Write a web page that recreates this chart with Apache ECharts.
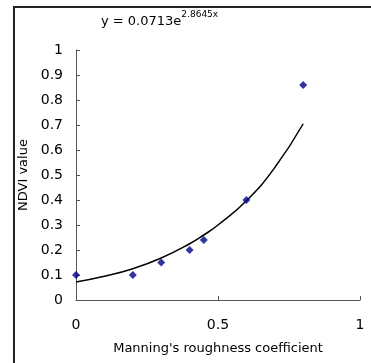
<!DOCTYPE html>
<html>
<head>
<meta charset="utf-8">
<script src="https://cdn.jsdelivr.net/npm/echarts@6/dist/echarts.min.js"></script>
<style>
  html, body { margin: 0; padding: 0; background: #fff; }
  #chart { width: 371px; height: 363px; }
</style>
</head>
<body>
<div id="chart"></div>
<script>
// measured points
var roughness = [0, 0.2, 0.3, 0.4, 0.45, 0.6, 0.8];
var ndvi = [0.1, 0.1, 0.15, 0.2, 0.24, 0.4, 0.86];
// trend line
var trendX = [0, 0.1, 0.2, 0.3, 0.4, 0.45, 0.5, 0.6, 0.7, 0.8];
var trendY = [0.072, 0.095, 0.125, 0.168, 0.225, 0.26, 0.3, 0.397, 0.53, 0.705];
var xTicks = [0, 0.5, 1];
var yTicks = [0, 0.1, 0.2, 0.3, 0.4, 0.5, 0.6, 0.7, 0.8, 0.9, 1];

var font = '"DejaVu Sans", sans-serif';

var pts = [];
for (var i = 0; i < roughness.length; i++) {
    pts.push([roughness[i], ndvi[i]]);
}
var trend = [];
for (var j = 0; j < trendX.length; j++) {
    trend.push([trendX[j], trendY[j]]);
}

var myChart = echarts.init(document.getElementById('chart'));
var option = {
    backgroundColor: '#fff',
    animation: false,
    title: {
        text: '{b|y = 0.0713e}{s|2.8645x}',
        left: 96,
        top: 3,
        textStyle: {
            fontWeight: 'normal',
            rich: {
                b: { fontFamily: font, fontSize: 13, fontWeight: 'normal', color: '#000', lineHeight: 20, verticalAlign: 'bottom' },
                s: { fontFamily: font, fontSize: 9, fontWeight: 'normal', color: '#000', lineHeight: 20, padding: [0, 0, 9, 0], verticalAlign: 'bottom' }
            }
        }
    },
    graphic: [{
        type: 'polyline',
        shape: { points: [[14, 400], [14, 7], [400, 7]] },
        style: { stroke: '#222', lineWidth: 2, fill: null }
    }],
    grid: { left: 76, right: 11, top: 50, bottom: 63 },
    xAxis: {
        type: 'value',
        min: 0, max: 1, interval: 0.5,
        name: "Manning's roughness coefficient",
        nameLocation: 'middle',
        nameGap: 42,
        nameTextStyle: { fontFamily: font, fontSize: 13, color: '#000' },
        axisLine: { show: true, lineStyle: { color: '#555', width: 1 } },
        axisTick: { show: true, inside: true, length: 4, lineStyle: { color: '#555' } },
        axisLabel: {
            margin: 18, fontFamily: font, fontSize: 14, color: '#000',
            formatter: function (v) { return xTicks.indexOf(v) >= 0 ? String(v) : ''; }
        },
        splitLine: { show: false }
    },
    yAxis: {
        type: 'value',
        min: 0, max: 1, interval: 0.1,
        name: 'NDVI value',
        nameLocation: 'middle',
        nameGap: 39,
        nameRotate: 90,
        nameTextStyle: { fontFamily: font, fontSize: 13, color: '#000' },
        axisLine: { show: true, lineStyle: { color: '#555', width: 1 } },
        axisTick: { show: true, inside: true, length: 4, lineStyle: { color: '#555' } },
        axisLabel: {
            margin: 13, fontFamily: font, fontSize: 14, color: '#000',
            formatter: function (v) {
                var r = Math.round(v * 10) / 10;
                return yTicks.indexOf(r) >= 0 ? String(r) : '';
            }
        },
        splitLine: { show: false }
    },
    series: [
        {
            name: 'trend',
            type: 'line',
            data: trend,
            smooth: true,
            symbol: 'none',
            lineStyle: { color: '#000', width: 1.5 },
            z: 2
        },
        {
            name: 'NDVI',
            type: 'scatter',
            data: pts,
            symbol: 'diamond',
            symbolSize: 8,
            itemStyle: { color: '#00008b' },
            z: 3
        }
    ]
};
myChart.setOption(option);
</script>
</body>
</html>
